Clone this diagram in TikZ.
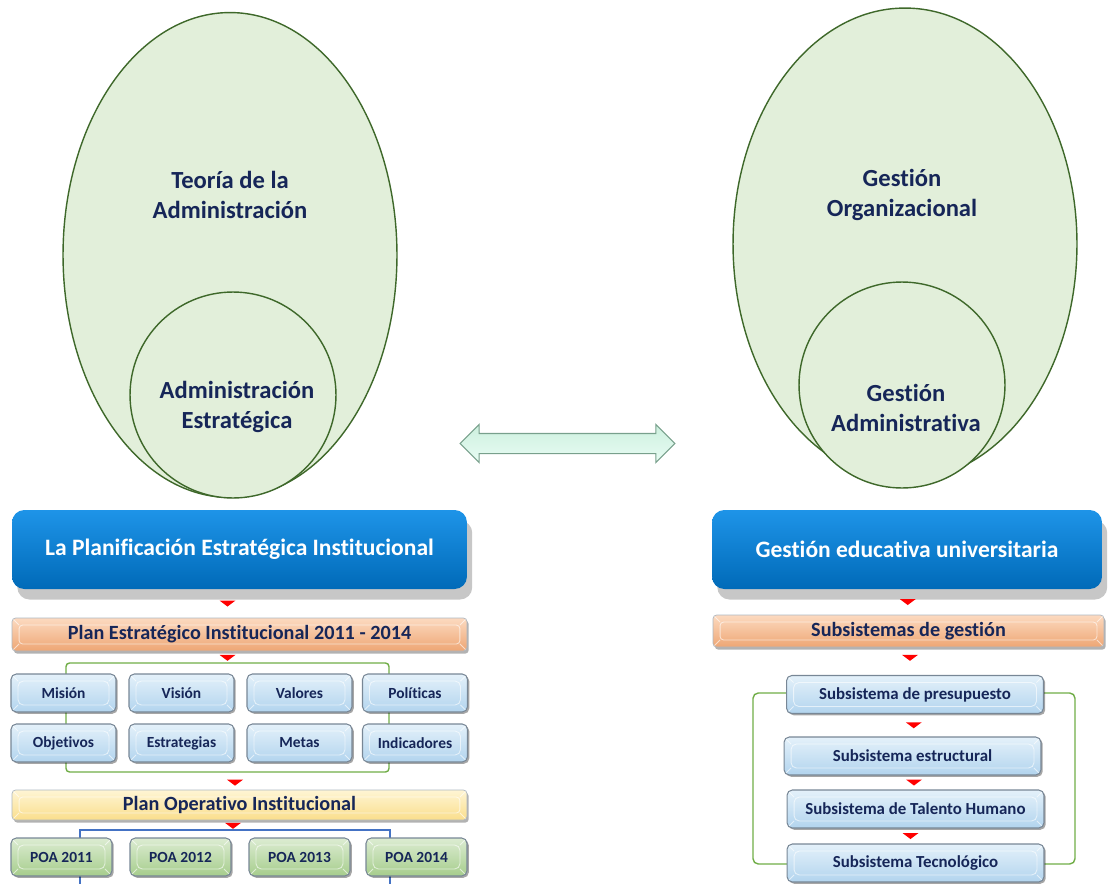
\documentclass[tikz,border=0pt]{standalone}
\usepackage{fontspec}
\setmainfont{Carlito}[Ligatures={NoCommon}]
\usetikzlibrary{shapes.geometric, shapes.arrows, shadows, calc}

\definecolor{navy}{RGB}{22,38,88}
\definecolor{elfill}{RGB}{226,239,218}
\definecolor{elline}{RGB}{62,104,42}
\definecolor{grnline}{RGB}{112,173,71}
\definecolor{bluline}{RGB}{68,114,196}
\definecolor{boxline}{RGB}{120,135,150}

\tikzset{
  outer/.style={ellipse, draw=elline, fill=elfill, line width=0.8pt, inner sep=0pt},
  inner/.style={circle, draw=elline, fill=elfill, line width=0.8pt, inner sep=0pt},
  eltxt/.style={text=navy, align=center, font=\bfseries\fontsize{14}{17}\selectfont},
  bluebox/.style={rounded corners=7pt, minimum height=1.58cm, text=white,
    top color={rgb,255:red,30;green,148;blue,232}, middle color={rgb,255:red,5;green,112;blue,194},
    bottom color={rgb,255:red,0;green,106;blue,184},
    font=\bfseries\fontsize{13.4}{16}\selectfont,
    drop shadow={shadow xshift=3pt, shadow yshift=-6pt, opacity=.22, fill=black}},
  bevel/.style={path picture={
    \draw[white, opacity=.6, line width=.5pt]
      ([xshift=4pt,yshift=-4pt]path picture bounding box.north west) rectangle
      ([xshift=-4pt,yshift=4pt]path picture bounding box.south east);
    \draw[white, opacity=.6, line width=.5pt]
      (path picture bounding box.north west) -- ++(4pt,-4pt)
      (path picture bounding box.north east) -- ++(-4pt,-4pt)
      (path picture bounding box.south west) -- ++(4pt,4pt)
      (path picture bounding box.south east) -- ++(-4pt,4pt);}},
  bar/.style={bevel, rounded corners=2pt, draw=boxline!60, line width=.4pt, text=navy,
    font=\bfseries\fontsize{11.5}{13}\selectfont,
    drop shadow={shadow xshift=1pt, shadow yshift=-1.5pt, opacity=.3, fill=black}},
  orangebar/.style={bar, top color={rgb,255:red,252;green,218;blue,192}, bottom color={rgb,255:red,238;green,166;blue,116}},
  yellowbar/.style={bar, top color={rgb,255:red,255;green,245;blue,212}, bottom color={rgb,255:red,250;green,222;blue,140}},
  item/.style={bevel, rounded corners=3pt, draw=boxline, line width=.6pt, text=navy,
    minimum height=.76cm, font=\bfseries\fontsize{8.8}{10}\selectfont,
    drop shadow={shadow xshift=1pt, shadow yshift=-1pt, opacity=.35, fill=black}},
  bluitem/.style={item, minimum width=2.1cm,
    top color={rgb,255:red,228;green,241;blue,250}, bottom color={rgb,255:red,178;green,212;blue,238}},
  poaitem/.style={item, minimum width=2.02cm,
    top color={rgb,255:red,220;green,236;blue,210}, bottom color={rgb,255:red,166;green,205;blue,140}},
  subitem/.style={bluitem, minimum width=5.14cm, font=\bfseries\fontsize{9.6}{11}\selectfont},
  linkarrow/.style={double arrow, draw={rgb,255:red,120;green,160;blue,140}, line width=.6pt,
    inner sep=0.19cm, double arrow head extend=0.18cm, minimum height=4.3cm,
    top color={rgb,255:red,205;green,240;blue,222}, bottom color={rgb,255:red,232;green,252;blue,244}},
  tip/.pic={\fill[red] (-8,-3) -- (8,-3) -- (0,3) -- cycle;}
}

\begin{document}
\begin{tikzpicture}[x=0.02cm, y=-0.02cm]
\useasboundingbox (0,0) rectangle (1109,883);

% Theory ellipses
\node[outer, minimum width=6.68cm, minimum height=9.7cm] (teoria) at (230,255) {};
\node[inner, minimum size=4.12cm] (admest) at (233,395) {};
\node[eltxt] (teoriaT) at (230,195) {Teoría de la\\Administración};
\node[eltxt] (admestT) at (237,407) {Administración\\Estratégica};

\node[outer, minimum width=6.88cm, minimum height=9.44cm] (gorg) at (905,244) {};
\node[inner, minimum size=4.12cm] (gadm) at (902,385) {};
\node[eltxt] (gorgT) at (902,195) {Gestión\\Organizacional};
\node[eltxt] (gadmT) at (906,408) {Gestión\\Administrativa};

% link between both sides
\node[linkarrow] (link) at (567.5,443.5) {};

% Left column
\node[bluebox, minimum width=9.1cm] (pe) at (239.5,549.5) {La Planificación Estratégica Institucional};
\node[orangebar, minimum width=9.1cm, minimum height=.66cm] (pei) at (239.5,634.5) {Plan Estratégico Institucional 2011 - 2014};

\draw[grnline, line width=.8pt, rounded corners=2pt] (66,663) rectangle (389,772);
\foreach \t/\x/\n in {Misión/63.5/mis, Visión/181.5/vis, Valores/299.5/val, Políticas/415/pol}
  \node[bluitem] (\n) at (\x,693) {\t};
\foreach \t/\x/\n in {Objetivos/63.5/obj, Estrategias/181.5/est, Metas/299.5/met, Indicadores/415/ind}
  \node[bluitem] (\n) at (\x,743) {\t};

\node[yellowbar, minimum width=9.1cm, minimum height=.6cm] (poi) at (239.5,805) {Plan Operativo Institucional};

\draw[bluline, line width=.8pt] (80,884) -- (80,830) -- (390,830) -- (390,884);
\foreach \x [count=\i from 11] in {61.5,180.5,299.5,416.5}
  \node[poaitem] (poa\i) at (\x,857) {POA 20\i};

\pic at ($(pe.south)!.5!(pei.north)+(-12,0)$) {tip};
\pic at ($(pei.south)+(-12,6.5)$) {tip};
\pic at ($(poi.north)+(-4.5,-7)$) {tip};
\pic at ($(poi.south)+(-6.5,5.5)$) {tip};

% Right column
\node[bluebox, minimum width=7.8cm] (geu) at (907,549.5) {Gestión educativa universitaria};
\node[orangebar, minimum width=7.82cm, minimum height=.64cm] (subs) at (908.5,631) {Subsistemas de gestión};

\draw[grnline, line width=.8pt, rounded corners=3pt] (753,693) rectangle (1075,864);
\node[subitem] (spre) at (915,694.5) {Subsistema de presupuesto};
\node[subitem] (sest) at (912.5,756) {Subsistema estructural};
\node[subitem] (stal) at (915.5,809) {Subsistema de Talento Humano};
\node[subitem] (stec) at (915.5,863) {Subsistema Tecnológico};

\pic at ($(geu.south)!.5!(subs.north)$) {tip};
\pic at ($(subs.south)+(1.5,10.5)$) {tip};
\pic at ($(spre.south)!.5!(sest.north)$) {tip};
\pic at ($(sest.south)!.5!(stal.north)$) {tip};
\pic at ($(stal.south)!.5!(stec.north)+(-5,0)$) {tip};

\end{tikzpicture}
\end{document}
